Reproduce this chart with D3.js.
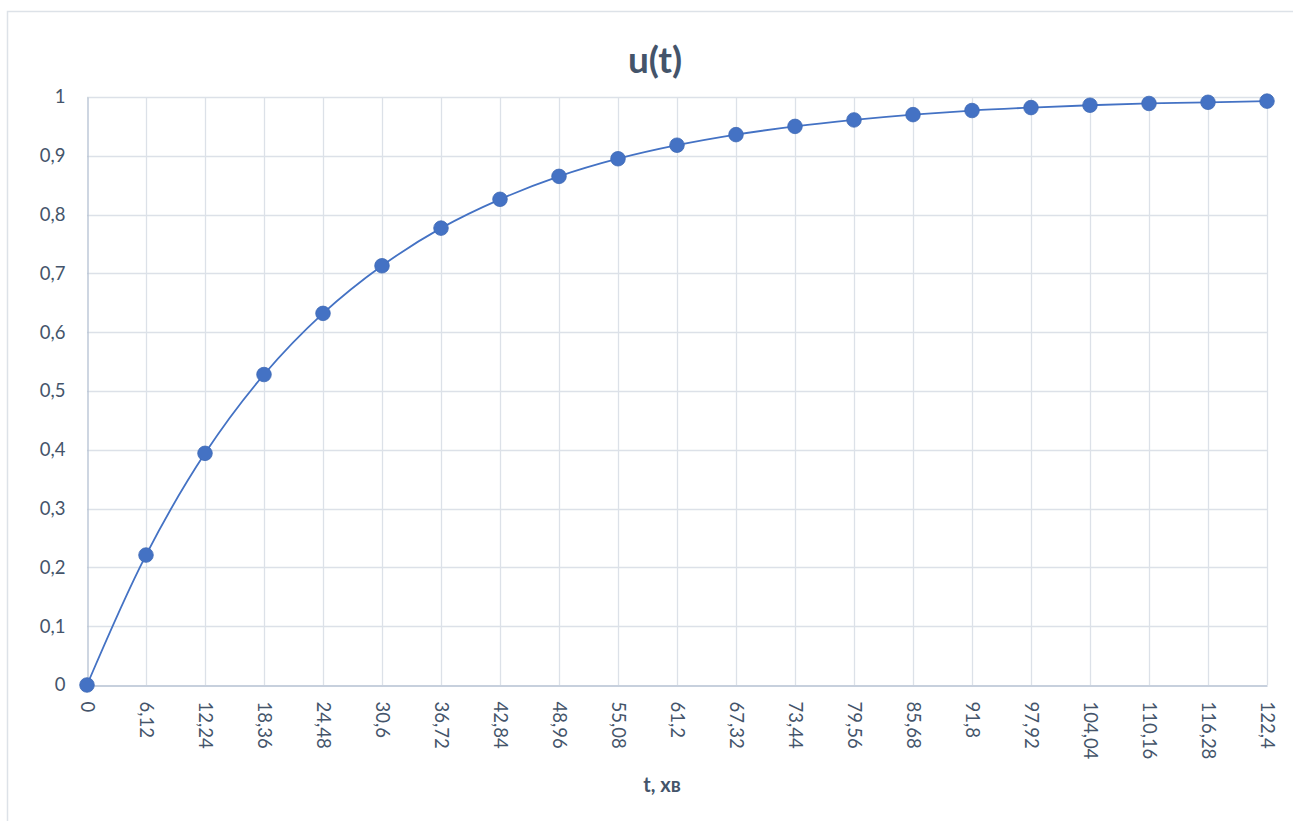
<!DOCTYPE html>
<html><head><meta charset="utf-8">
<script src="https://cdn.jsdelivr.net/npm/d3@7/dist/d3.min.js"></script>
<style>body{margin:0;background:#fff;}svg{display:block;font-family:Lato,"Open Sans",sans-serif;}</style>
</head><body>
<svg id="c" width="1293" height="821"></svg>
<script>
const tValues = [0,6.12,12.24,18.36,24.48,30.6,36.72,42.84,48.96,55.08,61.2,67.32,73.44,79.56,85.68,91.8,97.92,104.04,110.16,116.28,122.4];
const uValues = [0,0.221,0.394,0.528,0.632,0.713,0.777,0.826,0.865,0.895,0.918,0.936,0.950,0.961,0.970,0.977,0.982,0.986,0.989,0.991,0.993];
const xTickLabels = ["0","6,12","12,24","18,36","24,48","30,6","36,72","42,84","48,96","55,08","61,2","67,32","73,44","79,56","85,68","91,8","97,92","104,04","110,16","116,28","122,4"];
const yTicks = [0,0.1,0.2,0.3,0.4,0.5,0.6,0.7,0.8,0.9,1];
const yTickLabels = ["0","0,1","0,2","0,3","0,4","0,5","0,6","0,7","0,8","0,9","1"];
const title = "u(t)";
const xTitle = "t, хв";

const svg = d3.select("#c");
const textColor = "#44546A";
const gridColor = "#DCE1E8";
const axisColor = "#B4C0D2";
const blue = "#4472C4";

// chart border
svg.append("rect").attr("x",7.5).attr("y",11.5).attr("width",1300).attr("height",830)
  .attr("fill","#fff").attr("stroke","#DDE2E8").attr("stroke-width",1.5);

const x = d3.scaleLinear().domain([0,122.4]).range([87,1267]);
const y = d3.scaleLinear().domain([0,1]).range([685,97]);

// horizontal grid
svg.append("g").selectAll("line").data(yTicks.slice(1)).join("line")
  .attr("x1",x(0)).attr("x2",x(122.4)).attr("y1",d=>Math.round(y(d))+0.5).attr("y2",d=>Math.round(y(d))+0.5)
  .attr("stroke",gridColor).attr("stroke-width",1.3);
// vertical grid
svg.append("g").selectAll("line").data(tValues.slice(1)).join("line")
  .attr("x1",d=>Math.round(x(d))+0.5).attr("x2",d=>Math.round(x(d))+0.5).attr("y1",y(0)).attr("y2",y(1))
  .attr("stroke",gridColor).attr("stroke-width",1.3);

// axes via d3 axes
const yAxis = d3.axisLeft(y).tickValues(yTicks).tickFormat((d,i)=>yTickLabels[i]).tickSize(0).tickPadding(22);
const gy = svg.append("g").attr("transform",`translate(${x(0)+0.5},0)`).call(yAxis);
gy.select(".domain").attr("stroke",axisColor).attr("stroke-width",1.3);
gy.selectAll("text").attr("fill",textColor).style("font-size","18.5px").style("font-family","Lato,'Open Sans',sans-serif");

const xAxis = d3.axisBottom(x).tickValues(tValues).tickFormat((d,i)=>xTickLabels[i]).tickSize(0);
const gx = svg.append("g").attr("transform",`translate(0,${y(0)+0.5})`).call(xAxis);
gx.select(".domain").attr("stroke",axisColor).attr("stroke-width",1.3);
gx.selectAll("text").attr("fill",textColor).style("font-size","18.5px").style("font-family","Lato,'Open Sans',sans-serif")
  .attr("transform","rotate(90)").attr("x",16).attr("y",0).attr("dy","0.35em").attr("text-anchor","start");

// curve
const line = d3.line().x((d,i)=>x(tValues[i])).y(d=>y(d)).curve(d3.curveCatmullRom.alpha(0.5));
svg.append("path").datum(uValues).attr("d",line).attr("fill","none").attr("stroke",blue).attr("stroke-width",1.8);

// markers
svg.append("g").selectAll("circle").data(uValues).join("circle")
  .attr("cx",(d,i)=>x(tValues[i])).attr("cy",d=>y(d)).attr("r",7.3)
  .attr("fill",blue).attr("stroke","#3F69B5").attr("stroke-width",0.8);

// titles
svg.append("text").attr("x",655).attr("y",73).attr("text-anchor","middle")
  .attr("fill",textColor).style("font-size","37px").style("font-weight","bold").text(title);
svg.append("text").attr("x",662).attr("y",792).attr("text-anchor","middle")
  .attr("fill",textColor).style("font-size","20px").style("font-weight","bold").text(xTitle);
</script>
</body></html>
